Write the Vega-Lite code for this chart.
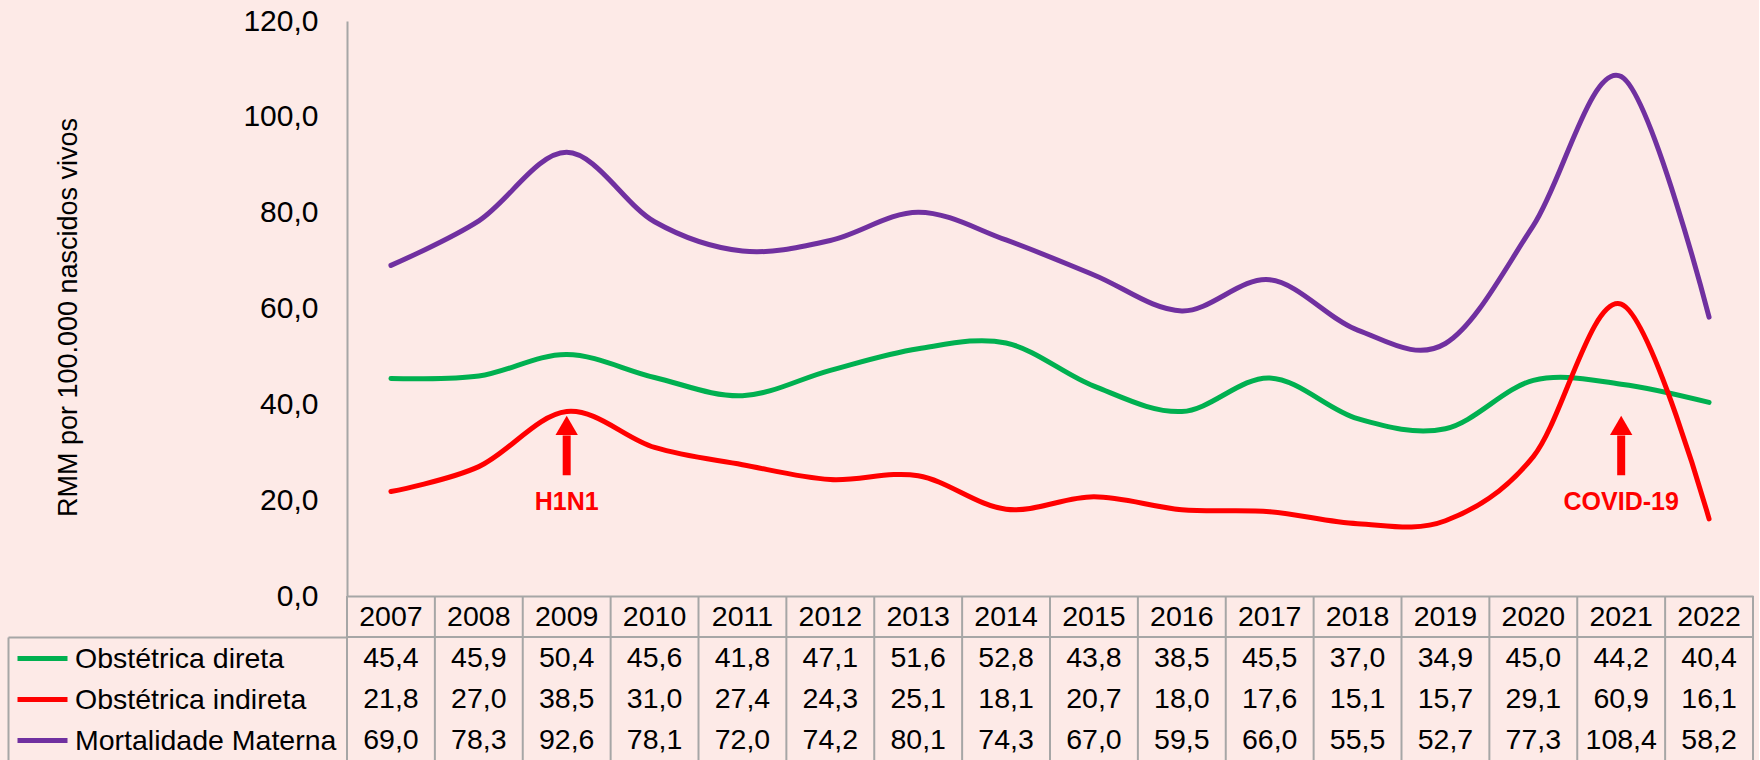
{
  "$schema": "https://vega.github.io/schema/vega-lite/v6.json",
  "background": "#FDEAE7",
  "padding": {"left": 7, "top": 6, "right": 5, "bottom": 0},
  "bounds": "flush",
  "spacing": 0,
  "config": {
    "font": "Liberation Sans",
    "view": {"stroke": null},
    "locale": {"number": {"decimal": ",", "thousands": ".", "grouping": [3], "currency": ["R$", ""]}}
  },
  "datasets": {
    "rmm": [
      {"ano": 2007, "serie": "Obstétrica direta", "valor": 45.4},
      {"ano": 2008, "serie": "Obstétrica direta", "valor": 45.9},
      {"ano": 2009, "serie": "Obstétrica direta", "valor": 50.4},
      {"ano": 2010, "serie": "Obstétrica direta", "valor": 45.6},
      {"ano": 2011, "serie": "Obstétrica direta", "valor": 41.8},
      {"ano": 2012, "serie": "Obstétrica direta", "valor": 47.1},
      {"ano": 2013, "serie": "Obstétrica direta", "valor": 51.6},
      {"ano": 2014, "serie": "Obstétrica direta", "valor": 52.8},
      {"ano": 2015, "serie": "Obstétrica direta", "valor": 43.8},
      {"ano": 2016, "serie": "Obstétrica direta", "valor": 38.5},
      {"ano": 2017, "serie": "Obstétrica direta", "valor": 45.5},
      {"ano": 2018, "serie": "Obstétrica direta", "valor": 37.0},
      {"ano": 2019, "serie": "Obstétrica direta", "valor": 34.9},
      {"ano": 2020, "serie": "Obstétrica direta", "valor": 45.0},
      {"ano": 2021, "serie": "Obstétrica direta", "valor": 44.2},
      {"ano": 2022, "serie": "Obstétrica direta", "valor": 40.4},
      {"ano": 2007, "serie": "Obstétrica indireta", "valor": 21.8},
      {"ano": 2008, "serie": "Obstétrica indireta", "valor": 27.0},
      {"ano": 2009, "serie": "Obstétrica indireta", "valor": 38.5},
      {"ano": 2010, "serie": "Obstétrica indireta", "valor": 31.0},
      {"ano": 2011, "serie": "Obstétrica indireta", "valor": 27.4},
      {"ano": 2012, "serie": "Obstétrica indireta", "valor": 24.3},
      {"ano": 2013, "serie": "Obstétrica indireta", "valor": 25.1},
      {"ano": 2014, "serie": "Obstétrica indireta", "valor": 18.1},
      {"ano": 2015, "serie": "Obstétrica indireta", "valor": 20.7},
      {"ano": 2016, "serie": "Obstétrica indireta", "valor": 18.0},
      {"ano": 2017, "serie": "Obstétrica indireta", "valor": 17.6},
      {"ano": 2018, "serie": "Obstétrica indireta", "valor": 15.1},
      {"ano": 2019, "serie": "Obstétrica indireta", "valor": 15.7},
      {"ano": 2020, "serie": "Obstétrica indireta", "valor": 29.1},
      {"ano": 2021, "serie": "Obstétrica indireta", "valor": 60.9},
      {"ano": 2022, "serie": "Obstétrica indireta", "valor": 16.1},
      {"ano": 2007, "serie": "Mortalidade Materna", "valor": 69.0},
      {"ano": 2008, "serie": "Mortalidade Materna", "valor": 78.3},
      {"ano": 2009, "serie": "Mortalidade Materna", "valor": 92.6},
      {"ano": 2010, "serie": "Mortalidade Materna", "valor": 78.1},
      {"ano": 2011, "serie": "Mortalidade Materna", "valor": 72.0},
      {"ano": 2012, "serie": "Mortalidade Materna", "valor": 74.2},
      {"ano": 2013, "serie": "Mortalidade Materna", "valor": 80.1},
      {"ano": 2014, "serie": "Mortalidade Materna", "valor": 74.3},
      {"ano": 2015, "serie": "Mortalidade Materna", "valor": 67.0},
      {"ano": 2016, "serie": "Mortalidade Materna", "valor": 59.5},
      {"ano": 2017, "serie": "Mortalidade Materna", "valor": 66.0},
      {"ano": 2018, "serie": "Mortalidade Materna", "valor": 55.5},
      {"ano": 2019, "serie": "Mortalidade Materna", "valor": 52.7},
      {"ano": 2020, "serie": "Mortalidade Materna", "valor": 77.3},
      {"ano": 2021, "serie": "Mortalidade Materna", "valor": 108.4},
      {"ano": 2022, "serie": "Mortalidade Materna", "valor": 58.2}
    ],
    "eventos": [
      {"ano": 2009, "rotulo": "H1N1"},
      {"ano": 2021, "rotulo": "COVID-19"}
    ]
  },
  "vconcat": [
    {
      "width": 1406,
      "height": 575,
      "layer": [
        {
          "data": {"name": "rmm"},
          "mark": {"type": "line", "interpolate": "cardinal", "strokeWidth": 5, "strokeCap": "round"},
          "encoding": {
            "x": {
              "field": "ano", "type": "ordinal",
              "scale": {"type": "point", "padding": 0.5},
              "axis": {"labels": false, "ticks": false, "title": null, "grid": false, "domainColor": "#A6A6A6", "domainWidth": 2}
            },
            "y": {
              "field": "valor", "type": "quantitative",
              "scale": {"domain": [0, 120], "nice": false},
              "axis": {
                "values": [0, 20, 40, 60, 80, 100, 120], "format": ".1f",
                "labelFontSize": 30, "labelColor": "#000000", "labelPadding": 29,
                "ticks": false, "grid": false, "domainColor": "#A6A6A6", "domainWidth": 2,
                "title": "RMM por 100.000 nascidos vivos", "titleFontSize": 27,
                "titleFontWeight": "normal", "titleColor": "#000000", "titlePadding": 160,
                "titleY": 296
              }
            },
            "color": {
              "field": "serie", "type": "nominal",
              "scale": {"domain": ["Obstétrica direta", "Obstétrica indireta", "Mortalidade Materna"], "range": ["#00B050", "#FF0000", "#7030A0"]},
              "legend": {
                "orient": "none", "legendX": -339, "legendY": 617, "title": null,
                "symbolType": "stroke", "symbolSize": 2500, "symbolStrokeWidth": 5,
                "labelFontSize": 28.5, "labelColor": "#000000", "labelOffset": 5, "labelLimit": 400,
                "padding": 0, "rowPadding": 0, "clipHeight": 41, "symbolOffset": 7
              }
            }
          }
        },
        {
          "data": {"name": "eventos"},
          "mark": {"type": "rule", "color": "#FF0000", "strokeWidth": 8},
          "encoding": {
            "x": {"field": "ano", "type": "ordinal"},
            "y": {"datum": 25.2, "type": "quantitative"},
            "y2": {"datum": 33.5}
          }
        },
        {
          "data": {"name": "eventos"},
          "mark": {"type": "point", "shape": "triangle-up", "size": 500, "filled": true, "color": "#FF0000", "opacity": 1, "strokeWidth": 0},
          "encoding": {
            "x": {"field": "ano", "type": "ordinal"},
            "y": {"datum": 35.6, "type": "quantitative"}
          }
        },
        {
          "data": {"name": "eventos"},
          "mark": {"type": "text", "color": "#FF0000", "fontSize": 25, "fontWeight": "bold"},
          "encoding": {
            "x": {"field": "ano", "type": "ordinal"},
            "y": {"datum": 19.6, "type": "quantitative"},
            "text": {"field": "rotulo", "type": "nominal"}
          }
        }
      ]
    },
    {
      "width": 1406,
      "height": 164,
      "data": {"name": "rmm"},
      "encoding": {
        "x": {"field": "ano", "type": "ordinal", "scale": {"type": "band", "paddingInner": 0, "paddingOuter": 0}, "axis": null}
      },
      "layer": [
        {
          "transform": [{"filter": "datum.serie === 'Obstétrica direta'"}],
          "mark": {"type": "rule", "color": "#A6A6A6", "strokeWidth": 2},
          "encoding": {"x": {"field": "ano", "type": "ordinal", "bandPosition": 0}}
        },
        {
          "transform": [{"filter": "datum.serie === 'Obstétrica direta' && datum.ano === 2022"}],
          "mark": {"type": "rule", "color": "#A6A6A6", "strokeWidth": 2},
          "encoding": {"x": {"field": "ano", "type": "ordinal", "bandPosition": 1}}
        },
        {
          "transform": [{"filter": "datum.serie === 'Obstétrica direta' && datum.ano === 2007"}],
          "mark": {"type": "rule", "color": "#A6A6A6", "strokeWidth": 2},
          "encoding": {
            "x": null,
            "y": {
              "field": "serie", "type": "nominal", "bandPosition": 0,
              "scale": {"type": "band", "domain": ["Ano", "Obstétrica direta", "Obstétrica indireta", "Mortalidade Materna"], "paddingInner": 0, "paddingOuter": 0},
              "axis": {
                "orient": "left", "offset": 339, "values": ["Obstétrica direta"], "bandPosition": 0,
                "labels": false, "ticks": true, "tickSize": -339, "tickColor": "#A6A6A6", "tickWidth": 2,
                "domain": true, "domainColor": "#A6A6A6", "domainWidth": 2, "domainDash": [0, 41, 300, 0],
                "title": null, "grid": false
              }
            }
          }
        },
        {
          "transform": [{"filter": "datum.serie === 'Obstétrica direta'"}],
          "mark": {"type": "text", "fontSize": 28.5, "color": "#000000"},
          "encoding": {
            "y": {"datum": "Ano", "type": "nominal"},
            "text": {"field": "ano", "type": "nominal"}
          }
        },
        {
          "mark": {"type": "text", "fontSize": 28.5, "color": "#000000"},
          "encoding": {
            "y": {"field": "serie", "type": "nominal"},
            "text": {"field": "valor", "type": "quantitative", "format": ".1f"}
          }
        }
      ]
    }
  ]
}
